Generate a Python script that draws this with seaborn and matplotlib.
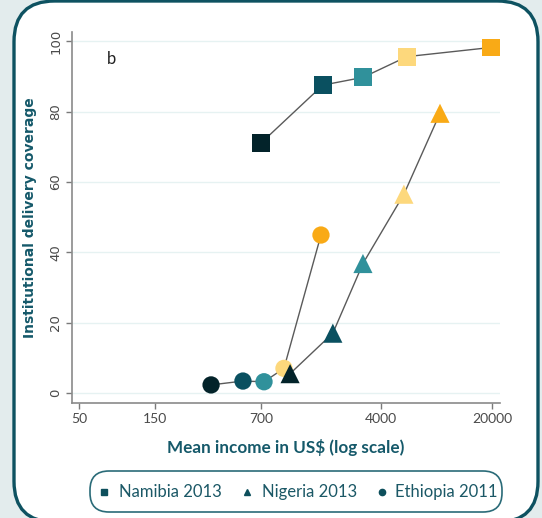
import numpy as np
import pandas as pd
import matplotlib
matplotlib.use("Agg")
import matplotlib.pyplot as plt
from matplotlib.patches import FancyBboxPatch
from matplotlib.lines import Line2D
import seaborn as sns

# ---- data ----
quintiles = ["Q1", "Q2", "Q3", "Q4", "Q5"]
namibia_income = [700, 1720, 3080, 5830, 19700]
namibia_cov = [71, 87.5, 89.7, 95.6, 98.2]
nigeria_income = [1070, 1990, 3080, 5580, 9420]
nigeria_cov = [5.5, 17, 36.8, 56.5, 79.5]
ethiopia_income = [340, 540, 733, 979, 1675]
ethiopia_cov = [2.3, 3.4, 3.2, 7.0, 44.9]
countries = ["Namibia 2013", "Nigeria 2013", "Ethiopia 2011"]
x_ticks = [50, 150, 700, 4000, 20000]
y_ticks = [0, 20, 40, 60, 80, 100]

palette = {"Q1": "#03232a", "Q2": "#0a5060", "Q3": "#30919b",
           "Q4": "#fdd87c", "Q5": "#f9aa16"}
markers = {"Namibia 2013": "s", "Nigeria 2013": "^", "Ethiopia 2011": "o"}
sizes = {"Namibia 2013": 165, "Nigeria 2013": 190, "Ethiopia 2011": 155}

df = pd.concat([
    pd.DataFrame({"country": countries[0], "quintile": quintiles,
                  "income": namibia_income, "coverage": namibia_cov}),
    pd.DataFrame({"country": countries[1], "quintile": quintiles,
                  "income": nigeria_income, "coverage": nigeria_cov}),
    pd.DataFrame({"country": countries[2], "quintile": quintiles,
                  "income": ethiopia_income, "coverage": ethiopia_cov}),
], ignore_index=True)

sns.set_theme(style="white")
plt.rcParams["font.family"] = ["Lato", "DejaVu Sans"]

teal = "#15596a"
W, H = 542, 518
fig = plt.figure(figsize=(W / 100, H / 100), dpi=100)
fig.patch.set_facecolor("#e3eced")

# rounded white frame
frame = FancyBboxPatch((14 / W, -4 / H), 524 / W, 521 / H,
                       boxstyle="round,pad=0,rounding_size=0.075",
                       transform=fig.transFigure, facecolor="white",
                       edgecolor="#0e5261", linewidth=2.4, zorder=-10,
                       mutation_aspect=W / H)
fig.patches.append(frame)

ax = fig.add_axes([72 / W, 1 - 403 / H, 428 / W, 371 / H])
ax.set_facecolor("none")
ax.set_zorder(2)

# lines
sns.lineplot(data=df, x="income", y="coverage", units="country",
             estimator=None, color="#5a5a5a", linewidth=1.0, ax=ax,
             sort=False, legend=False, zorder=2)
# points
for c in ["Namibia 2013", "Ethiopia 2011", "Nigeria 2013"]:
    sub = df[df["country"] == c]
    sns.scatterplot(data=sub, x="income", y="coverage", hue="quintile",
                    palette=palette, marker=markers[c], s=sizes[c],
                    linewidth=0, ax=ax, legend=False, zorder=3)

ax.set_xscale("log")
ax.set_xlim(45.2, 22500)
ax.set_ylim(-2.84, 102.6)
ax.set_xticks(x_ticks)
ax.set_xticklabels([str(t) for t in x_ticks], fontsize=10)
ax.xaxis.set_minor_locator(matplotlib.ticker.NullLocator())
ax.set_yticks(y_ticks)
ax.set_yticklabels([str(t) for t in y_ticks], rotation=90, va="center",
                   family="DejaVu Sans", fontsize=9.5)
for y in y_ticks:
    ax.axhline(y, color="#e6f2f2", linewidth=1.0, zorder=1)

for s in ["top", "right"]:
    ax.spines[s].set_visible(False)
for s in ["left", "bottom"]:
    ax.spines[s].set_color("#8a8a8a")
    ax.spines[s].set_linewidth(1.2)
ax.tick_params(axis="both", which="major", length=4, width=1,
               color="#7a7a7a", labelcolor="#4a4a4a",
               direction="out", bottom=True, left=True, pad=3)

ax.set_xlabel("Mean income in US$ (log scale)", color=teal, fontsize=12.3,
              fontweight="bold", labelpad=10)
ax.set_ylabel("Institutional delivery coverage", color=teal, fontsize=10,
              family="DejaVu Sans", fontweight="bold", labelpad=9)

fig.text(112 / W, 1 - 59 / H, "b", fontsize=12, color="#222222",
         ha="center", va="center")

# legend with rounded box
leg_box = FancyBboxPatch((90 / W, 1 - 512 / H), 412 / W, 41 / H,
                         boxstyle="round,pad=0,rounding_size=0.035",
                         transform=fig.transFigure, facecolor="white",
                         edgecolor="#2a6b78", linewidth=1.2,
                         mutation_aspect=W / H, zorder=1)
fig.patches.append(leg_box)
leg_y = 1 - 492 / H
mk_x = [104, 247, 382]
tx_x = [119, 262, 395]
for c, mx, tx in zip(countries, mk_x, tx_x):
    fig.add_artist(Line2D([mx / W], [leg_y], transform=fig.transFigure,
                          linestyle="none", marker=markers[c],
                          color="#0d4f5c", markersize=4.5, zorder=3))
    fig.text(tx / W, leg_y, c, fontsize=12, color="#1b5866",
             ha="left", va="center", zorder=3)

fig.savefig("out.png", dpi=100, facecolor=fig.get_facecolor())
